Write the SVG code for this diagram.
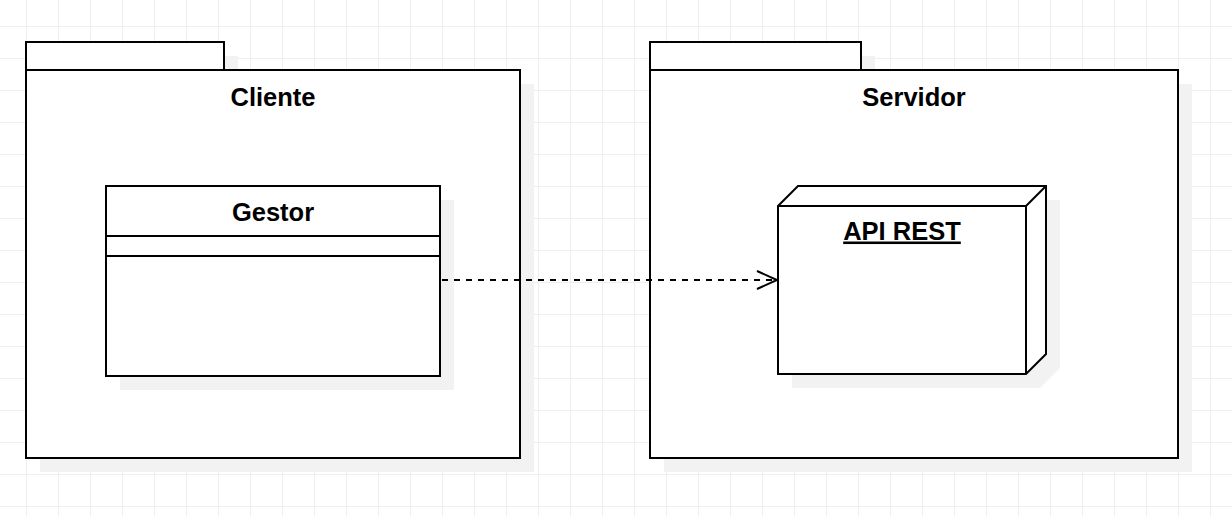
<svg xmlns="http://www.w3.org/2000/svg" width="1232" height="516" viewBox="0 0 1232 516">
  <style>
    .shape { fill: #ffffff; stroke: #000000; stroke-width: 2; }
    .shadow { fill: #f2f2f2; stroke: none; }
    .line { fill: none; stroke: #000000; stroke-width: 2; }
    .label { font-family: "Liberation Sans", Arial, Helvetica, sans-serif; font-weight: bold; font-size: 25.5px; fill: #000000; text-anchor: middle; }
  </style>
  <defs>
    <pattern id="grid" width="32" height="32" patternUnits="userSpaceOnUse" x="26" y="26">
      <path d="M0 0.5H32M0.5 0V32" stroke="#eeeeee" stroke-width="1" fill="none"/>
    </pattern>
    <marker id="openArrow" markerUnits="userSpaceOnUse" markerWidth="24" markerHeight="22" refX="21" refY="10" orient="auto">
      <path d="M1 1L21 10L1 19" fill="none" stroke="#000000" stroke-width="2"/>
    </marker>
  </defs>
  <rect width="1232" height="516" fill="#ffffff"/>
  <rect width="1232" height="516" fill="url(#grid)"/>

  <g id="package-cliente">
    <path class="shadow" d="M40 56H238V84H534V472H40Z"/>
    <rect class="shape" x="26" y="42" width="198" height="28"/>
    <rect class="shape" x="26" y="70" width="494" height="388"/>
    <text class="label" x="273" y="105.5">Cliente</text>
  </g>

  <g id="package-servidor">
    <path class="shadow" d="M664 56H875V84H1192V472H664Z"/>
    <rect class="shape" x="650" y="42" width="211" height="28"/>
    <rect class="shape" x="650" y="70" width="528" height="388"/>
    <text class="label" x="914" y="105.5">Servidor</text>
  </g>

  <g id="class-gestor">
    <rect class="shadow" x="120" y="200" width="334" height="190"/>
    <rect class="shape" x="106" y="186" width="334" height="190"/>
    <line class="line" x1="106" y1="236" x2="440" y2="236"/>
    <line class="line" x1="106" y1="256" x2="440" y2="256"/>
    <text class="label" x="273" y="220.5">Gestor</text>
  </g>

  <g id="node-api-rest">
    <path class="shadow" d="M792 220L812 200H1060V368L1040 388H792Z"/>
    <path class="shape" d="M778 206L798 186H1046V354L1026 374H778Z"/>
    <path class="line" d="M778 206H1026V374M1026 206L1046 186"/>
    <text class="label" x="902" y="239.5" text-decoration="underline">API REST</text>
  </g>

  <g id="connectors">
    <path class="line" d="M442 280H777" stroke-dasharray="6 6" marker-end="url(#openArrow)"/>
  </g>
</svg>
